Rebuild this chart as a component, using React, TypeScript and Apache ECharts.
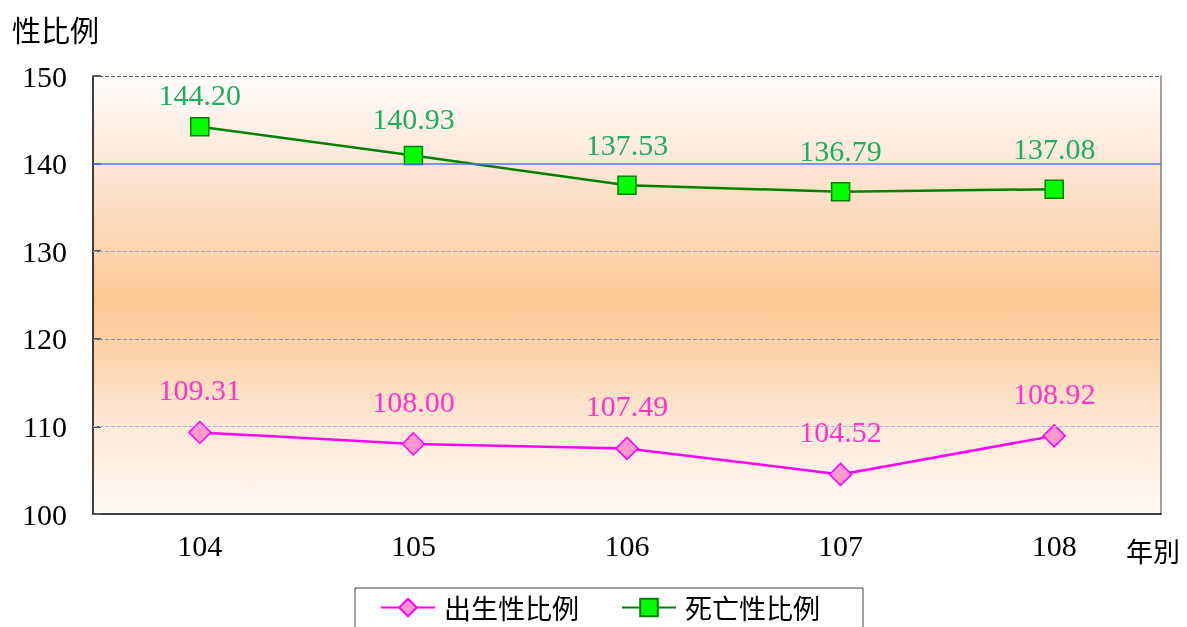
import React, { useEffect, useRef } from "react";
import * as echarts from "echarts";

const years = ["104", "105", "106", "107", "108"];
const birthRatio = [109.31, 108.0, 107.49, 104.52, 108.92];
const deathRatio = [144.2, 140.93, 137.53, 136.79, 137.08];
const birthName = "出生性比例";
const deathName = "死亡性比例";
const yMin = 100;
const yMax = 150;
const yStep = 10;

const serif = "'Liberation Serif', 'Noto Sans CJK TC', serif";
const cjk = "'Noto Sans CJK TC', 'Liberation Serif', serif";

export default function App() {
  const ref = useRef<HTMLDivElement>(null);
  useEffect(() => {
    if (!ref.current) return;
    const chart = echarts.init(ref.current, null, { renderer: "svg" });
    const bg = new echarts.graphic.LinearGradient(0, 0, 0, 1, [
      { offset: 0, color: "#fffdfc" },
      { offset: 0.2, color: "#fde6d6" },
      { offset: 0.4, color: "#fcd4ae" },
      { offset: 0.51, color: "#fbc994" },
      { offset: 0.6, color: "#fcd0a4" },
      { offset: 0.8, color: "#fde8d6" },
      { offset: 1, color: "#fffaf6" },
    ]);
    const gridLines = [
      { yAxis: 150, lineStyle: { color: "#5a5a78", type: "dashed", width: 1, opacity: 1 } },
      { yAxis: 140, lineStyle: { color: "#4f74ff", type: "solid", width: 1.5, opacity: 1 } },
      { yAxis: 130, lineStyle: { color: "#a0a0c8", type: "dashed", width: 1, opacity: 1 } },
      { yAxis: 120, lineStyle: { color: "#8888a8", type: "dashed", width: 1, opacity: 1 } },
      { yAxis: 110, lineStyle: { color: "#a8b0e8", type: "dashed", width: 1, opacity: 1 } },
    ];
    const deathData = deathRatio.map((v, i) => ({
      value: v,
      label: { distance: i === 0 ? 8 : i === 1 ? 12 : 16 },
    }));
    chart.setOption({
      animation: false,
      grid: {
        left: 93,
        right: 26,
        top: 76,
        bottom: 113,
        show: true,
        borderWidth: 0,
        backgroundColor: bg,
      },
      legend: {
        data: [birthName, deathName],
        left: 355,
        top: 588,
        padding: [6, 43, 30, 25],
        itemGap: 42,
        itemWidth: 54,
        itemHeight: 22,
        borderColor: "#404040",
        borderWidth: 1,
        textStyle: { fontFamily: cjk, fontSize: 27, color: "#000", padding: [0, 0, 0, 4] },
      },
      graphic: [
        {
          type: "text",
          left: 12,
          top: 14,
          style: { text: "性比例", fontFamily: cjk, fontSize: 29, fill: "#000" },
        },
        {
          type: "text",
          left: 1126,
          top: 537,
          style: { text: "年別", fontFamily: cjk, fontSize: 27, fill: "#000" },
        },
      ],
      xAxis: {
        type: "category",
        data: years,
        boundaryGap: true,
        axisLine: { lineStyle: { color: "#000", width: 1.5 } },
        axisTick: { inside: true, length: 8, lineStyle: { color: "#555" } },
        axisLabel: { fontFamily: serif, fontSize: 30, color: "#000", margin: 16 },
        splitLine: { show: false },
      },
      yAxis: [
        {
          type: "value",
          min: yMin,
          max: yMax,
          interval: yStep,
          axisLine: { show: true, lineStyle: { color: "#000", width: 1.5 } },
          axisTick: { show: true, inside: true, length: 8, lineStyle: { color: "#555", width: 2 } },
          axisLabel: { fontFamily: serif, fontSize: 30, color: "#000", margin: 26 },
          splitLine: { show: false },
        },
        {
          type: "value",
          min: yMin,
          max: yMax,
          interval: yStep,
          position: "right",
          axisLine: { show: true, lineStyle: { color: "#808080", width: 1.5 } },
          axisTick: { show: false },
          axisLabel: { show: false },
          splitLine: { show: false },
        },
      ],
      series: [
        {
          name: birthName,
          type: "line",
          data: birthRatio,
          symbol: "diamond",
          symbolSize: 22,
          lineStyle: { color: "#ff00ff", width: 2.5 },
          itemStyle: { color: "#ff99cc", borderColor: "#ff00ff", borderWidth: 1.5 },
          label: {
            show: true,
            position: "top",
            distance: 16,
            formatter: (p: any) => Number(p.value).toFixed(2),
            fontFamily: serif,
            fontSize: 30,
            color: "#ff33cc",
          },
          markLine: {
            silent: true,
            symbol: "none",
            label: { show: false },
            emphasis: { disabled: true },
            data: gridLines,
          },
          z: 3,
        },
        {
          name: deathName,
          type: "line",
          data: deathData,
          symbol: "rect",
          symbolSize: 18,
          lineStyle: { color: "#008000", width: 2.5 },
          itemStyle: { color: "#00ff00", borderColor: "#008000", borderWidth: 1.5 },
          label: {
            show: true,
            position: "top",
            distance: 16,
            formatter: (p: any) => Number(p.value).toFixed(2),
            fontFamily: serif,
            fontSize: 30,
            color: "#1fae5c",
          },
          z: 3,
        },
      ],
    });
    return () => chart.dispose();
  }, []);
  return (
    <div
      ref={ref}
      style={{ position: "fixed", left: 0, top: 0, width: 1187, height: 627 }}
    />
  );
}
